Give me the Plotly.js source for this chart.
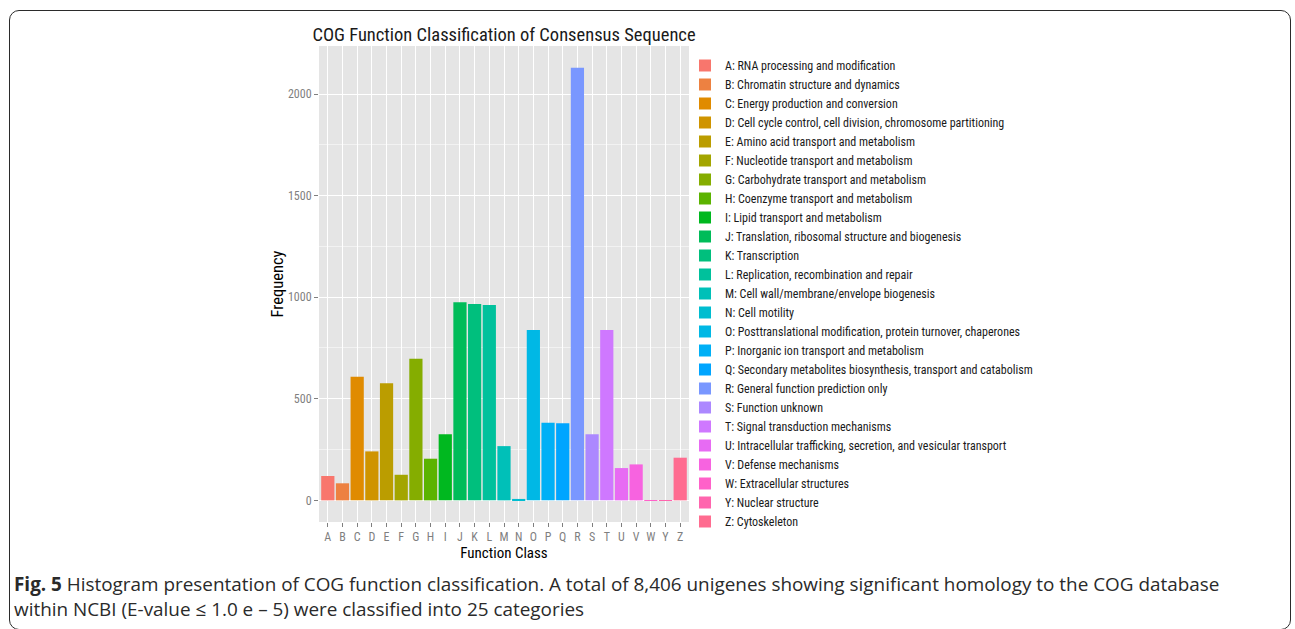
<!DOCTYPE html>
<html>
<head>
<meta charset="utf-8">
<script src="https://cdn.plot.ly/plotly-3.0.1.min.js"></script>
<style>
  html, body { margin: 0; padding: 0; background: #ffffff; }
  #wrap { position: relative; width: 1295px; height: 629px; }
  #chart { position: absolute; left: 0; top: 0; width: 1295px; height: 629px; }
  #frame { position: absolute; left: 9px; top: 10px; width: 1282px; height: 620px;
           border: 1.6px solid #2b2b2b; border-radius: 10px; box-sizing: border-box;
           pointer-events: none; }
</style>
</head>
<body>
<div id="wrap">
  <div id="chart"></div>
  <div id="frame"></div>
</div>
<script>
// ---- data ----
const categories = ["A","B","C","D","E","F","G","H","I","J","K","L","M","N","O","P","Q","R","S","T","U","V","W","Y","Z"];
const frequencies = [120, 84, 608, 241, 577, 126, 697, 205, 326, 975, 967, 962, 267, 7, 839, 382, 379, 2130, 325, 839, 159, 177, 1, 1, 210];
const descriptions = [
  "RNA processing and modification",
  "Chromatin structure and dynamics",
  "Energy production and conversion",
  "Cell cycle control, cell division, chromosome partitioning",
  "Amino acid transport and metabolism",
  "Nucleotide transport and metabolism",
  "Carbohydrate transport and metabolism",
  "Coenzyme transport and metabolism",
  "Lipid transport and metabolism",
  "Translation, ribosomal structure and biogenesis",
  "Transcription",
  "Replication, recombination and repair",
  "Cell wall/membrane/envelope biogenesis",
  "Cell motility",
  "Posttranslational modification, protein turnover, chaperones",
  "Inorganic ion transport and metabolism",
  "Secondary metabolites biosynthesis, transport and catabolism",
  "General function prediction only",
  "Function unknown",
  "Signal transduction mechanisms",
  "Intracellular trafficking, secretion, and vesicular transport",
  "Defense mechanisms",
  "Extracellular structures",
  "Nuclear structure",
  "Cytoskeleton"
];
const yTickVals = [0, 500, 1000, 1500, 2000];
const yTickText = ["0", "500", "1000", "1500", "2000"];

// ---- style helpers (ggplot2 default hue palette) ----
function hcl(h, c, l) {
  const Xn = 95.047, Yn = 100, Zn = 108.883;
  const hr = h * Math.PI / 180;
  const U = c * Math.cos(hr), V = c * Math.sin(hr);
  const Y = l > 8 ? Yn * Math.pow((l + 16) / 116, 3) : Yn * l / 903.3;
  const den = Xn + 15 * Yn + 3 * Zn;
  const un = 4 * Xn / den, vn = 9 * Yn / den;
  const u = U / (13 * l) + un, v = V / (13 * l) + vn;
  const X = 9 * Y * u / (4 * v);
  const Z = -X / 3 - 5 * Y + 3 * Y / v;
  const lin = [
    (3.240479 * X - 1.537150 * Y - 0.498535 * Z) / 100,
    (-0.969256 * X + 1.875992 * Y + 0.041556 * Z) / 100,
    (0.055648 * X - 0.204043 * Y + 1.057311 * Z) / 100
  ];
  const g = lin.map(t => {
    let s = t <= 0.0031308 ? 12.92 * t : 1.055 * Math.pow(t, 1 / 2.4) - 0.055;
    s = Math.max(0, Math.min(1, s));
    return Math.round(s * 255);
  });
  return "#" + g.map(x => x.toString(16).padStart(2, "0")).join("");
}
function huePalette(n) {
  const out = [];
  for (let i = 0; i < n; i++) out.push(hcl(15 + 360 * i / n, 100, 65));
  return out;
}
const colors = huePalette(categories.length);

const FONT = '"Liberation Sans Narrow", "Arial Narrow", "Roboto Condensed", "Liberation Sans", Arial, sans-serif';
const CAPFONT = '"Open Sans", "Noto Sans", sans-serif';

// page geometry (pixels) -> plotly paper coords
const M = { l: 319, r: 606, t: 20, b: 60 };
const W = 1295, H = 629;
const gsW = W - M.l - M.r, gsH = H - M.t - M.b;
const px = x => (x - M.l) / gsW;
const py = y => (H - M.b - y) / gsH;

const traces = categories.map((c, i) => ({
  type: "bar",
  x: [c],
  y: [frequencies[i]],
  name: c + ": " + descriptions[i],
  width: 0.9,
  marker: { color: colors[i], line: { width: 0 } },
  hovertemplate: c + ": %{y}<extra></extra>"
}));

const layout = {
  width: W,
  height: H,
  paper_bgcolor: "#ffffff",
  plot_bgcolor: "#E5E5E5",
  margin: { l: M.l, r: M.r, t: M.t, b: M.b, pad: 0 },
  barmode: "overlay",
  showlegend: true,
  font: { family: FONT, color: "#1a1a1a" },
  title: {
    text: "COG Function Classification of Consensus Sequence",
    font: { family: FONT, size: 18.5, color: "#1a1a1a" },
    xref: "paper", x: 0.5, xanchor: "center",
    yref: "container", y: 1 - 35 / H, yanchor: "middle"
  },
  xaxis: {
    type: "category",
    categoryorder: "array",
    categoryarray: categories,
    range: [-0.6, categories.length - 0.4],
    showgrid: true, gridcolor: "#ffffff", gridwidth: 1.1,
    zeroline: false, showline: false,
    ticks: "outside", ticklen: 4, tickwidth: 1, tickcolor: "#7F7F7F",
    tickfont: { family: FONT, size: 12, color: "#7F7F7F" },
    title: { text: "Function Class", font: { family: FONT, size: 15, color: "#000000" }, standoff: 3 },
    fixedrange: true
  },
  yaxis: {
    domain: [py(522), py(46)],
    range: [-106.5, 2236.5],
    tickmode: "array", tickvals: yTickVals, ticktext: yTickText,
    showgrid: true, gridcolor: "#ffffff", gridwidth: 1.1,
    minor: { dtick: 250, tick0: 0, showgrid: true, gridcolor: "#F2F2F2", gridwidth: 0.6, ticks: "" },
    zeroline: false, showline: false,
    ticks: "outside", ticklen: 4, tickwidth: 1, tickcolor: "#7F7F7F",
    tickfont: { family: FONT, size: 12, color: "#7F7F7F" },
    title: { text: "Frequency", font: { family: FONT, size: 16.5, color: "#000000" }, standoff: 0 },
    fixedrange: true
  },
  legend: {
    x: px(685), xanchor: "left",
    y: py(51), yanchor: "top",
    bgcolor: "rgba(0,0,0,0)",
    borderwidth: 0,
    traceorder: "normal",
    font: { family: FONT, size: 12, color: "#1a1a1a" },
    itemclick: false, itemdoubleclick: false
  },
  annotations: [
    {
      xref: "paper", yref: "paper",
      x: px(12), y: py(584),
      xanchor: "left", yanchor: "middle", showarrow: false, align: "left",
      text: "<b>Fig. 5</b> Histogram presentation of COG function classification. A total of 8,406 unigenes showing significant homology to the COG database",
      font: { family: CAPFONT, size: 18.9, color: "#2a2a2a" }
    },
    {
      xref: "paper", yref: "paper",
      x: px(12), y: py(609),
      xanchor: "left", yanchor: "middle", showarrow: false, align: "left",
      text: "within NCBI (E-value \u2264 1.0 e \u2013 5) were classified into 25 categories",
      font: { family: CAPFONT, size: 18.9, color: "#2a2a2a" }
    }
  ]
};

Plotly.newPlot("chart", traces, layout, { displayModeBar: false, responsive: false });
</script>
</body>
</html>
